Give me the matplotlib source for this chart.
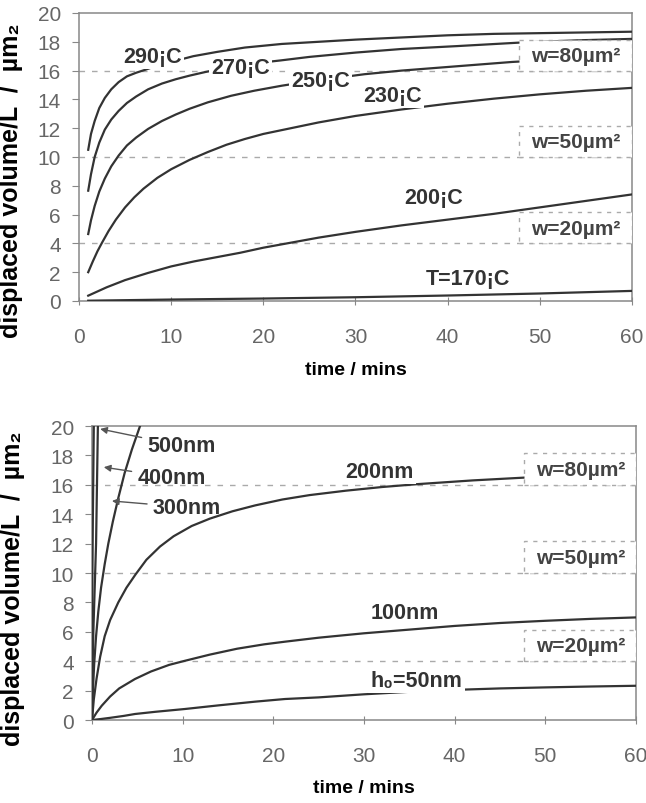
import numpy as np
import matplotlib
matplotlib.use("Agg")
import matplotlib.pyplot as plt
from matplotlib.patches import Rectangle

plt.rcParams['font.family'] = ['Liberation Sans', 'DejaVu Sans']

# ------------------------------------------------------------
# Top panel: temperature series (time in mins, volume in um^2)
# ------------------------------------------------------------
t290 = [1, 1.3, 1.7, 2.2, 2.8, 3.5, 4.3, 5.2, 6.2, 7.2, 8.5, 10, 11.2,
        12.4, 15, 18, 22, 26, 30, 35, 40, 45, 50, 55, 60]
v290 = [10.5, 11.6, 12.5, 13.4, 14.1, 14.7, 15.2, 15.6, 15.85, 16.06, 16.35,
        16.6, 16.8, 17.0, 17.3, 17.6, 17.85, 18.0, 18.15, 18.3, 18.45, 18.55,
        18.6, 18.65, 18.7]
t270 = [1, 1.3, 1.7, 2.2, 2.8, 3.5, 4.3, 5.2, 6.2, 7.5, 9, 10.5, 12, 13.7,
        16, 19, 21.8, 25, 30, 35, 41, 48, 54, 60]
v270 = [7.66, 8.8, 10.0, 11.0, 11.9, 12.6, 13.2, 13.75, 14.2, 14.7, 15.1,
        15.4, 15.65, 15.9, 16.2, 16.5, 16.7, 16.95, 17.25, 17.5, 17.7, 17.95,
        18.1, 18.2]
t250 = [1, 1.3, 1.7, 2.2, 2.8, 3.5, 4.3, 5.2, 6.2, 7.5, 9, 10.5, 12, 14,
        16.5, 19, 22, 25, 28, 31, 35, 40, 47, 54, 60]
v250 = [4.65, 5.6, 6.6, 7.6, 8.5, 9.35, 10.1, 10.8, 11.35, 11.95, 12.5,
        12.95, 13.35, 13.8, 14.25, 14.6, 14.95, 15.25, 15.5, 15.75, 16.0,
        16.25, 16.6, 16.85, 17.0]
t230 = [1, 1.5, 2, 2.5, 3.2, 4, 5, 6, 7, 8.5, 10, 12, 14, 16, 18, 20, 23,
        26, 30, 35, 40, 45, 50, 55, 60]
v230 = [2.0, 2.75, 3.45, 4.05, 4.85, 5.65, 6.5, 7.2, 7.8, 8.55, 9.15, 9.8,
        10.35, 10.85, 11.25, 11.6, 12.0, 12.4, 12.85, 13.3, 13.7, 14.05,
        14.35, 14.6, 14.8]
t200 = [1, 3, 5, 7.5, 10, 12.5, 15, 17.5, 20, 23, 26, 30, 35, 40, 45, 50,
        55, 60]
v200 = [0.37, 0.95, 1.45, 1.95, 2.4, 2.75, 3.05, 3.35, 3.7, 4.05, 4.4, 4.8,
        5.25, 5.65, 6.05, 6.5, 6.95, 7.4]
t170 = [1, 10, 20, 30, 40, 50, 60]
v170 = [0.02, 0.1, 0.17, 0.26, 0.38, 0.52, 0.7]

top_series = [(t290, v290), (t270, v270), (t250, v250),
              (t230, v230), (t200, v200), (t170, v170)]
top_labels = ['290¡C', '270¡C', '250¡C', '230¡C', '200¡C', 'T=170¡C']
top_label_pos = [(7.95, 17.0), (17.5, 16.2), (26.2, 15.3),
                 (34.0, 14.26), (38.5, 7.2), (42.2, 1.53)]

# ------------------------------------------------------------
# Bottom panel: film thickness series
# ------------------------------------------------------------
t500 = [0, 0.02, 0.05, 0.1, 0.15, 0.2]
v500 = [0, 5, 10, 14, 17, 20]
t400 = [0, 0.05, 0.15, 0.3, 0.45, 0.55, 0.65]
v400 = [0, 3, 6, 9, 12, 16, 20]
t300 = [0, 0.1, 0.25, 0.45, 0.7, 1.0, 1.4, 1.8, 2.3, 2.9, 3.6, 4.4, 5.3]
v300 = [0, 2.0, 3.9, 5.7, 7.4, 9.0, 10.6, 12.0, 13.5, 15.1, 16.8, 18.4, 20]
t200n = [0, 0.2, 0.5, 0.9, 1.4, 2.0, 2.9, 3.8, 4.8, 6, 7.5, 9, 11, 13, 15.5,
         18, 21, 24, 28, 32, 36, 42, 48, 54, 60]
v200n = [0, 1.4, 2.8, 4.3, 5.7, 6.8, 8.0, 9.0, 9.9, 10.9, 11.8, 12.5, 13.2,
         13.7, 14.2, 14.6, 15.0, 15.3, 15.6, 15.85, 16.05, 16.3, 16.5, 16.65,
         16.8]
t100n = [0, 0.5, 1.07, 2, 3, 4.74, 6.5, 8.5, 10.25, 13, 16, 19, 21.3, 25, 30,
         35, 40, 45, 50, 55, 60]
v100n = [0, 0.5, 0.97, 1.6, 2.15, 2.79, 3.3, 3.75, 4.03, 4.45, 4.85, 5.15,
         5.33, 5.6, 5.9, 6.15, 6.4, 6.6, 6.75, 6.88, 6.98]
t50n = [0, 1, 2, 3.5, 4.74, 7, 10.25, 14, 18, 21.3, 25, 30, 35, 40, 45, 50,
        55, 60]
v50n = [0, 0.07, 0.15, 0.28, 0.41, 0.56, 0.75, 1.0, 1.25, 1.43, 1.54, 1.75,
        1.92, 2.05, 2.15, 2.22, 2.28, 2.33]

bot_series = [(t500, v500), (t400, v400), (t300, v300),
              (t200n, v200n), (t100n, v100n), (t50n, v50n)]
bot_labels = ['200nm', '100nm', 'h₀=50nm']
bot_label_pos = [(31.7, 16.9), (34.5, 7.33), (35.8, 2.67)]
arrow_labels = ['500nm', '400nm', '300nm']
arrow_text_pos = [(9.85, 18.66), (8.75, 16.5), (10.45, 14.47)]
arrow_tips = [(0.9, 19.8), (1.3, 17.2), (2.2, 14.9)]

# w boxes: dashed reference levels
w_levels = [16, 10, 4]
w_labels = ['w=80µm²', 'w=50µm²', 'w=20µm²']

LINE_C = '#333333'
GRID_C = '#aaaaaa'
TICK_C = '#666666'
YLABEL = 'displaced volume/L  /  µm₂'


def style_axes(ax):
    ax.set_xlim(0, 60)
    ax.set_ylim(0, 20)
    ax.set_xticks(np.arange(0, 61, 10))
    ax.set_yticks(np.arange(0, 21, 2))
    for sp in ax.spines.values():
        sp.set_color('#888888')
        sp.set_linewidth(1.1)
    ax.tick_params(axis='x', direction='inout', length=6, pad=16,
                   colors='#888888', labelcolor=TICK_C, labelsize=15)
    ax.tick_params(axis='y', direction='out', length=5, pad=8,
                   colors='#888888', labelcolor=TICK_C, labelsize=15)
    for lev, lab in zip(w_levels, w_labels):
        ax.axhline(lev, color=GRID_C, ls=(0, (4, 5)), lw=1, zorder=1)
        ax.add_patch(Rectangle((47.7, lev), 12.3, 2.15, facecolor='white',
                               edgecolor=GRID_C, ls=(0, (3, 4)), lw=1,
                               zorder=4))
        ax.text(53.9, lev + 1.05, lab, ha='center', va='center',
                fontsize=15, fontweight='bold', color='#444444', zorder=5)
    ax.set_xlabel('time / mins', fontsize=14, fontweight='bold')
    ax.set_ylabel(YLABEL, fontsize=18, fontweight='bold')


fig = plt.figure(figsize=(6.46, 8.04), dpi=100)
ax1 = fig.add_axes([0.1223, 0.6244, 0.8560, 0.3582])
ax2 = fig.add_axes([0.1424, 0.1032, 0.8421, 0.3657])

# ---- top panel
for t, v in top_series:
    ax1.plot(t, v, color=LINE_C, lw=1.6, zorder=3)
for lab, (x, y) in zip(top_labels, top_label_pos):
    ax1.text(x, y, lab, ha='center', va='center', fontsize=15.5,
             fontweight='bold', color='#333333', zorder=6,
             bbox=dict(facecolor='white', edgecolor='none', pad=1.5))
style_axes(ax1)
ax1.xaxis.set_label_coords(0.5, -0.21)
ax1.yaxis.set_label_coords(-0.101, 0.42)

# ---- bottom panel
for t, v in bot_series:
    ax2.plot(t, v, color=LINE_C, lw=1.6, zorder=3)
for lab, (x, y) in zip(bot_labels, bot_label_pos):
    ax2.text(x, y, lab, ha='center', va='center', fontsize=15.5,
             fontweight='bold', color='#333333', zorder=6,
             bbox=dict(facecolor='white', edgecolor='none', pad=1.5))
for lab, xy, tip in zip(arrow_labels, arrow_text_pos, arrow_tips):
    ax2.annotate(lab, xy=tip, xytext=xy, ha='center', va='center',
                 fontsize=15.5, fontweight='bold', color='#333333', zorder=6,
                 arrowprops=dict(arrowstyle='-|>', color='#555555', lw=1,
                                 shrinkA=2, shrinkB=0, mutation_scale=10))
style_axes(ax2)
ax2.xaxis.set_label_coords(0.5, -0.20)
ax2.yaxis.set_label_coords(-0.123, 0.45)

plt.savefig('out.png', dpi=100)
